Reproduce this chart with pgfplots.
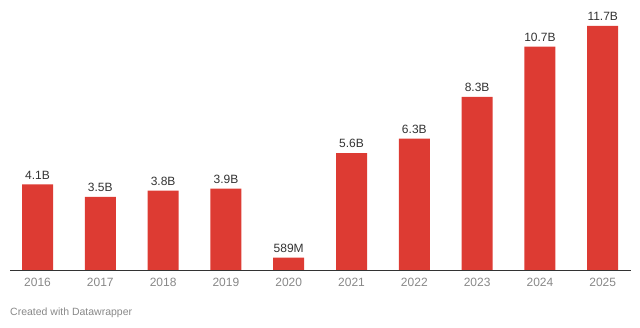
\documentclass[border=0pt]{standalone}
\usepackage{pgfplots}
\pgfplotsset{compat=1.18}
\usepackage{pgfplotstable}
\usepackage{fontspec}
\setmainfont{Liberation Sans}
\definecolor{barred}{HTML}{DD3B33}
\definecolor{lbl}{HTML}{333333}
\definecolor{tick}{HTML}{888888}
\pgfplotstableread{
x y lab
0 4.1 4.1B
1 3.5 3.5B
2 3.8 3.8B
3 3.9 3.9B
4 0.589 589M
5 5.6 5.6B
6 6.3 6.3B
7 8.3 8.3B
8 10.7 10.7B
9 11.7 11.7B
}\datatable
\begin{document}
\begin{tikzpicture}[x=1pt,y=1pt]
\useasboundingbox (-10pt,-58pt) rectangle (630pt,270pt);
\begin{axis}[
  at={(0,0)}, anchor=south west,
  scale only axis,
  width=621pt, height=260pt,
  xmin=-0.438, xmax=9.45,
  ymin=0, ymax=12.46,
  axis x line*=bottom,
  axis y line=none,
  x axis line style={draw=lbl, line width=0.9pt, -},
  xtick=data,
  xticklabels={2016,2017,2018,2019,2020,2021,2022,2023,2024,2025},
  major tick length=0pt,
  xticklabel style={font=\fontsize{12}{14}\selectfont, text=tick, yshift=-5pt},
  ytick=\empty,
  clip=false,
]
\addplot[ybar, bar width=31pt, fill=barred, draw=none,
  point meta=explicit symbolic,
  nodes near coords,
  nodes near coords style={font=\fontsize{12}{14}\selectfont, text=lbl, anchor=south, yshift=1.5pt}
] table[x=x, y=y, meta=lab] {\datatable};
\end{axis}
\node[anchor=base west, font=\fontsize{10.5}{12}\selectfont, text=tick, inner sep=0pt] at (0pt,-46pt) {Created with Datawrapper};
\end{tikzpicture}
\end{document}
